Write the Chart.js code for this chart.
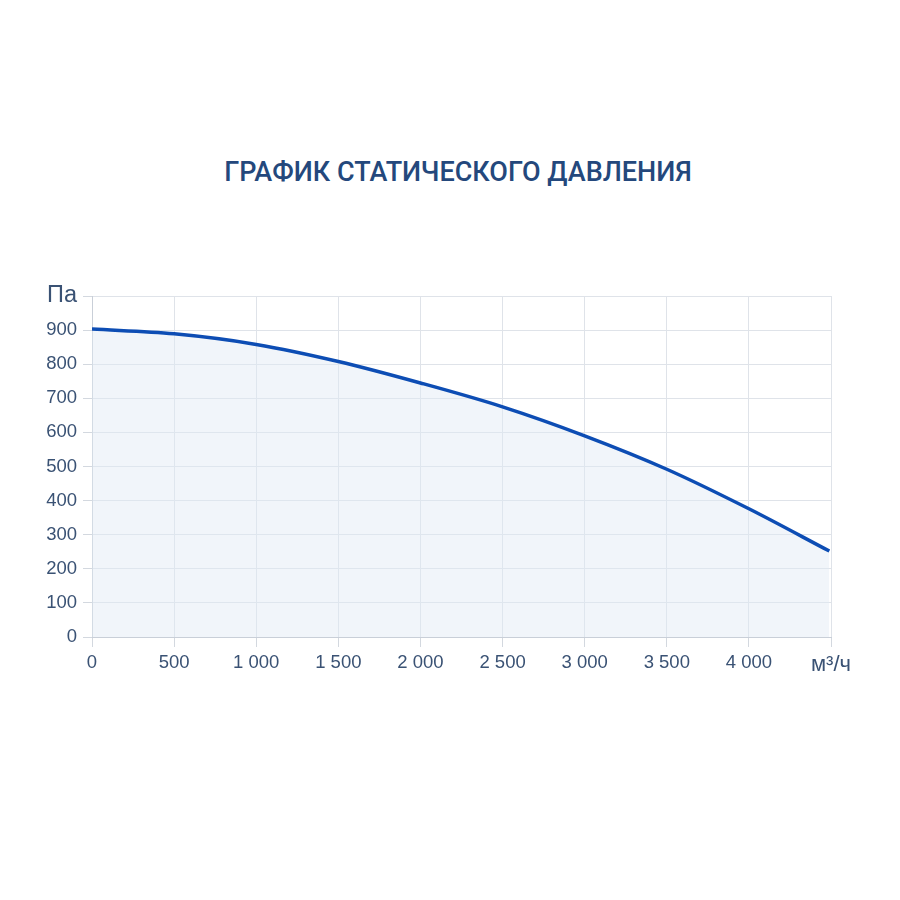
<!DOCTYPE html>
<html lang="ru">
<head>
<meta charset="utf-8">
<title>График статического давления</title>
<script src="https://cdn.jsdelivr.net/npm/chart.js@4"></script>
<style>
  html, body { margin: 0; padding: 0; background: #fff; }
  #wrap { position: relative; width: 900px; height: 900px; }
  #title {
    position: absolute; left: 0; top: 156px; width: 916px;
    text-align: center;
    font-family: Roboto, "Noto Sans", sans-serif;
    font-weight: 500; font-size: 27px; color: #24487c;
  }
  canvas { position: absolute; left: 0; top: 0; }
</style>
</head>
<body>
<div id="wrap">
  <div id="title">ГРАФИК СТАТИЧЕСКОГО ДАВЛЕНИЯ</div>
  <canvas id="pressureChart" width="900" height="900"></canvas>
</div>
<script>
// airflow, m3/h
const flow = [0, 500, 1000, 1500, 2000, 2500, 3000, 3500, 4000, 4490];
// static pressure, Pa
const pressure = [903, 889, 858, 808, 745, 675, 590, 492, 376, 252];

const xMax = 4500;
const yMax = 1000;
const xUnit = 'м³/ч';
const yUnit = 'Па';

const fmt = (v) => String(v).replace(/\B(?=(\d{3})+(?!\d))/g, ' ');

const ctx = document.getElementById('pressureChart');

new Chart(ctx, {
  type: 'line',
  data: {
    datasets: [{
      data: flow.map((x, i) => ({ x: x, y: pressure[i] })),
      borderColor: '#0d4db4',
      borderWidth: 3.5,
      backgroundColor: 'rgba(225, 232, 244, 0.45)',
      fill: 'origin',
      pointRadius: 0,
      cubicInterpolationMode: 'monotone'
    }]
  },
  options: {
    responsive: false,
    animation: false,
    layout: { padding: { top: 296, right: 69, bottom: 0, left: 0 } },
    plugins: {
      legend: { display: false },
      tooltip: { enabled: false }
    },
    scales: {
      x: {
        type: 'linear',
        min: 0,
        max: xMax,
        afterFit: (s) => { s.height = 263; },
        border: { color: '#c9cfd8' },
        grid: { color: '#dfe3e9', tickLength: 10, tickColor: '#d3d8df' },
        ticks: {
          stepSize: 500,
          padding: 5,
          color: '#3a5274',
          font: (c) => ({
            family: '"Liberation Sans", Arial, sans-serif',
            size: c.tick && c.tick.value === xMax ? 22 : 18.5
          }),
          callback: (v) => v === xMax ? xUnit : fmt(v)
        }
      },
      y: {
        min: 0,
        max: yMax,
        afterFit: (s) => { s.width = 92; },
        border: { color: '#c9cfd8' },
        grid: { color: '#dfe3e9', tickLength: 9, tickColor: '#d3d8df' },
        ticks: {
          stepSize: 100,
          padding: 6,
          color: '#3a5274',
          font: (c) => ({
            family: '"Liberation Sans", Arial, sans-serif',
            size: c.tick && c.tick.value === yMax ? 23.5 : 18.5
          }),
          callback: (v) => v === yMax ? yUnit : fmt(v)
        }
      }
    }
  }
});
</script>
</body>
</html>
